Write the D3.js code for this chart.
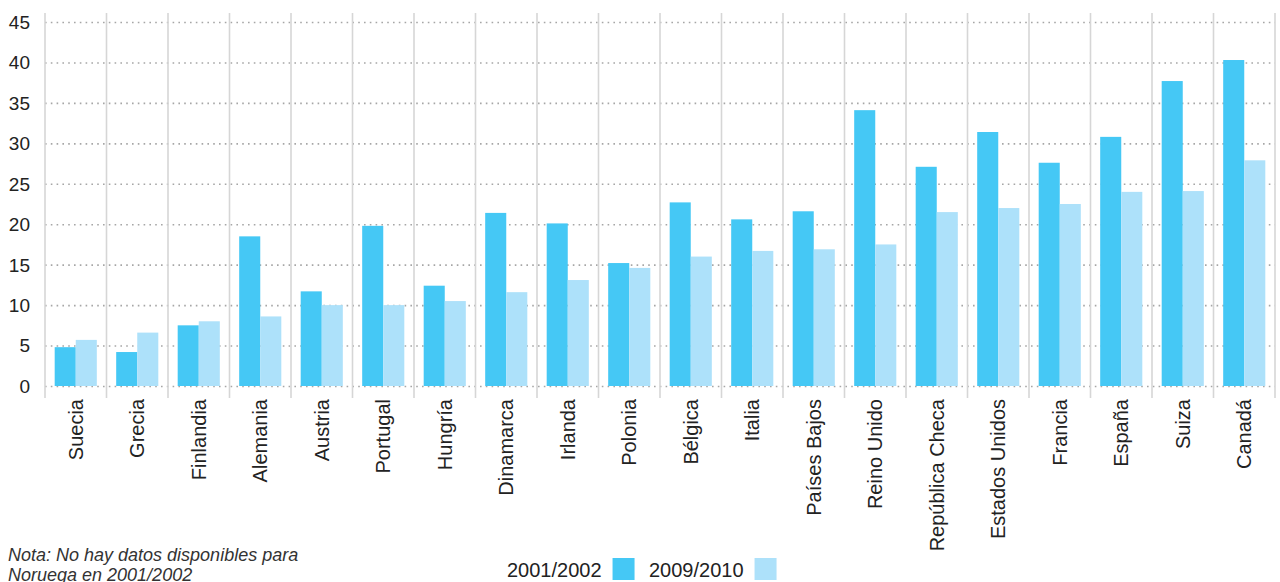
<!DOCTYPE html>
<html>
<head>
<meta charset="utf-8">
<script src="https://cdn.jsdelivr.net/npm/d3@7"></script>
<style>
  html, body { margin: 0; padding: 0; background: #fff; }
  svg { display: block; font-family: "Liberation Sans", Arial, sans-serif; }
</style>
</head>
<body>
<script>
// datos del gráfico
var paises = ["Suecia","Grecia","Finlandia","Alemania","Austria","Portugal","Hungría","Dinamarca","Irlanda","Polonia",
              "Bélgica","Italia","Países Bajos","Reino Unido","República Checa","Estados Unidos","Francia","España","Suiza","Canadá"];
var v2002 = [4.8, 4.2, 7.5, 18.5, 11.7, 19.8, 12.4, 21.4, 20.1, 15.2, 22.7, 20.6, 21.6, 34.1, 27.1, 31.4, 27.6, 30.8, 37.7, 40.3];
var v2010 = [5.7, 6.6, 8.0, 8.6, 10.0, 10.0, 10.5, 11.6, 13.1, 14.6, 16.0, 16.7, 16.9, 17.5, 21.5, 22.0, 22.5, 24.0, 24.1, 27.9];
var series = ["2001/2002", "2009/2010"];
var yTicks = [0, 5, 10, 15, 20, 25, 30, 35, 40, 45];
var nota = ["Nota: No hay datos disponibles para", "Noruega en 2001/2002"];

(function(){
  var W = 1280, H = 582,
      m = {left: 45, right: 5, top: 22, bottom: 196},
      colores = ["#45c8f5", "#ade1fa"];

  var svg = d3.select("body").append("svg").attr("width", W).attr("height", H);

  var x = d3.scaleBand().domain(paises).range([m.left, W - m.right]).paddingInner(0).paddingOuter(0);
  var xs = d3.scaleBand().domain(series).range([0, x.bandwidth()]).paddingInner(0).paddingOuter(0.46);
  var y = d3.scaleLinear().domain([0, 45]).range([H - m.bottom, m.top]);

  // lineas de rejilla punteadas
  svg.append("g").selectAll("line").data(yTicks).enter().append("line")
    .attr("x1", m.left).attr("x2", W - m.right)
    .attr("y1", function(d){ return y(d) + 0.5; }).attr("y2", function(d){ return y(d) + 0.5; })
    .attr("stroke", "#a6a6a6").attr("stroke-width", 1.6).attr("stroke-dasharray", "1.6,4.2");

  // separadores verticales
  var seps = paises.map(function(p){ return x(p); }).concat([W - m.right]);
  svg.append("g").selectAll("line").data(seps).enter().append("line")
    .attr("x1", function(d){ return d; }).attr("x2", function(d){ return d; })
    .attr("y1", 13).attr("y2", y(0) + 12)
    .attr("stroke", "#d6d6d6").attr("stroke-width", 1.6);

  // barras
  var datos = paises.map(function(p, i){ return {pais: p, vals: [v2002[i], v2010[i]]}; });
  var grp = svg.append("g").selectAll("g").data(datos).enter().append("g")
    .attr("transform", function(d){ return "translate(" + x(d.pais) + ",0)"; });
  grp.selectAll("rect").data(function(d){ return d.vals.map(function(v, k){ return {s: series[k], v: v, k: k}; }); })
    .enter().append("rect")
    .attr("x", function(d){ return xs(d.s); })
    .attr("width", xs.bandwidth())
    .attr("y", function(d){ return y(d.v); })
    .attr("height", function(d){ return y(0) - y(d.v); })
    .attr("fill", function(d){ return colores[d.k]; });

  // eje y
  svg.append("g").selectAll("text").data(yTicks).enter().append("text")
    .attr("x", 30).attr("y", function(d){ return y(d); }).attr("dy", "0.36em")
    .attr("text-anchor", "end").attr("font-size", 19).attr("fill", "#222")
    .text(function(d){ return d; });

  // etiquetas del eje x
  svg.append("g").selectAll("text").data(paises).enter().append("text")
    .attr("transform", function(d){ return "translate(" + (x(d) + x.bandwidth() / 2) + "," + (y(0) + 13) + ") rotate(-90)"; })
    .attr("dy", "0.36em").attr("text-anchor", "end")
    .attr("font-size", 20).attr("fill", "#222")
    .text(function(d){ return d; });

  // leyenda
  var ley = svg.append("g");
  var lx = [507, 649];
  series.forEach(function(s, i){
    var t = ley.append("text").attr("x", lx[i]).attr("y", 577)
      .attr("font-size", 20).attr("fill", "#222").text(s);
    var w = t.node().getComputedTextLength();
    ley.append("rect").attr("x", lx[i] + w + 11).attr("y", 558).attr("width", 22).attr("height", 22)
      .attr("fill", colores[i]);
  });

  // nota
  svg.append("g").selectAll("text").data(nota).enter().append("text")
    .attr("x", 8).attr("y", function(d, i){ return 561 + i * 20; })
    .attr("font-size", 18).attr("font-style", "italic").attr("fill", "#333")
    .text(function(d){ return d; });
})();
</script>
</body>
</html>
